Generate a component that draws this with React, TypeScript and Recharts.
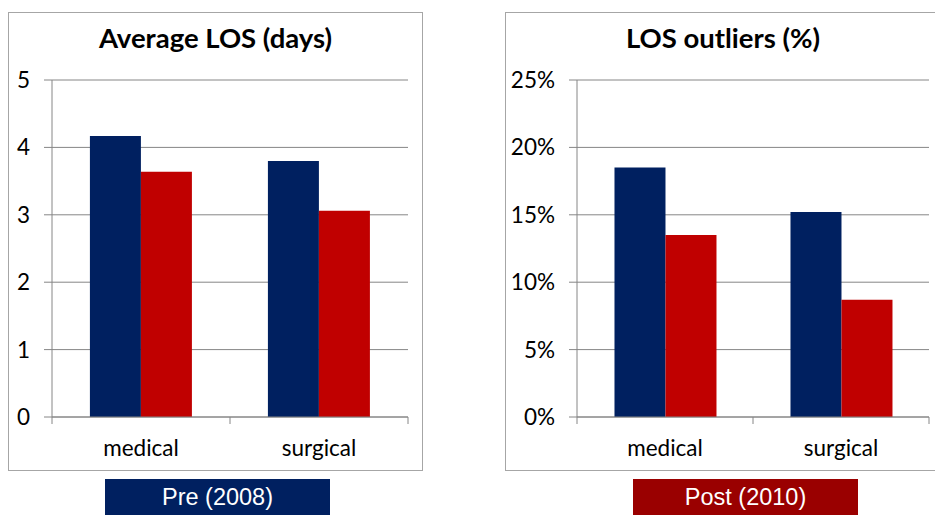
import React from "react";
import { BarChart, Bar, XAxis, YAxis, CartesianGrid } from "recharts";

const categories = ["medical", "surgical"];
const losPre = [4.17, 3.8];
const losPost = [3.64, 3.06];
const outPre = [0.185, 0.152];
const outPost = [0.135, 0.087];
const losTicks = [0, 1, 2, 3, 4, 5];
const outTicks = [0, 0.05, 0.1, 0.15, 0.2, 0.25];
const titles = ["Average LOS (days)", "LOS outliers (%)"];
const legendLabels = ["Pre (2008)", "Post (2010)"];

const NAVY = "#002060";
const RED = "#C00000";
const POSTBOX = "#9A0000";
const AXIS = "#868686";
const BORDER = "#A6A6A6";
const FONT = "Lato, 'Open Sans', sans-serif";
const TICK_FS = 22.5;

const losData = categories.map((c, i) => ({ cat: c, pre: losPre[i], post: losPost[i] }));
const outData = categories.map((c, i) => ({ cat: c, pre: outPre[i], post: outPost[i] }));

const CatTick = (props: any) => {
  const { x, y, payload, index, visibleTicksCount } = props;
  const off = payload && typeof payload.offset === "number" ? payload.offset : 0;
  return (
    <g>
      <line x1={x - off} x2={x - off} y1={y - 7} y2={y} stroke={AXIS} />
      {index === visibleTicksCount - 1 && (
        <line x1={x + off} x2={x + off} y1={y - 7} y2={y} stroke={AXIS} />
      )}
      <text x={x} y={y + 32} textAnchor="middle" fill="#000" fontFamily={FONT} fontSize={TICK_FS}>
        {payload.value}
      </text>
    </g>
  );
};

function Panel(props: {
  left: number;
  width: number;
  chartWidth: number;
  yWidth: number;
  rightMargin: number;
  title: string;
  titleX: number;
  data: any[];
  ticks: number[];
  domain: [number, number];
  fmt?: (v: number) => string;
  rightBorder: boolean;
}) {
  const { left, width, chartWidth, yWidth, rightMargin, title, titleX, data, ticks, domain, fmt, rightBorder } = props;
  return (
    <div
      style={{
        position: "absolute",
        left,
        top: 12,
        width,
        height: 459,
        boxSizing: "border-box",
        border: `1px solid ${BORDER}`,
        borderRight: rightBorder ? `1px solid ${BORDER}` : "none",
        background: "#fff",
      }}
    >
      <svg
        width={chartWidth}
        height={60}
        style={{ position: "absolute", left: 0, top: 0 }}
      >
        <text
          x={titleX}
          y={35}
          textAnchor="middle"
          fontFamily={FONT}
          fontWeight="bold"
          fontSize={27.5}
          fill="#000"
        >
          {title}
        </text>
      </svg>
      <div style={{ position: "absolute", left: 0, top: 0 }}>
        <BarChart
          width={chartWidth}
          height={457}
          data={data}
          margin={{ top: 67, right: rightMargin, bottom: 13, left: 0 }}
          barCategoryGap="21.3%"
          barGap={0}
        >
          <CartesianGrid vertical={false} stroke={AXIS} strokeDasharray="" />
          <XAxis
            dataKey="cat"
            height={40}
            tickLine={false}
            tickSize={7}
            tickMargin={0}
            axisLine={{ stroke: AXIS }}
            tick={<CatTick />}
            interval={0}
          />
          <YAxis
            width={yWidth}
            domain={domain}
            ticks={ticks}
            interval={0}
            tickSize={8}
            tickMargin={14}
            tickLine={{ stroke: AXIS }}
            axisLine={{ stroke: AXIS }}
            tickFormatter={fmt}
            tick={{ fill: "#000", fontFamily: FONT, fontSize: TICK_FS }}
          />
          <Bar dataKey="pre" fill={NAVY} isAnimationActive={false} />
          <Bar dataKey="post" fill={RED} isAnimationActive={false} />
        </BarChart>
      </div>
    </div>
  );
}

function LegendBox(props: { left: number; color: string; label: string }) {
  return (
    <div
      style={{
        position: "absolute",
        left: props.left,
        top: 479,
        width: 225,
        height: 40,
        background: props.color,
        color: "#fff",
        fontFamily: "'Liberation Sans', Arial, sans-serif",
        fontSize: 23.5,
        lineHeight: "36px",
        textAlign: "center",
      }}
    >
      {props.label}
    </div>
  );
}

export default function App() {
  return (
    <div
      style={{
        position: "absolute",
        left: 0,
        top: 0,
        width: 935,
        height: 515,
        overflow: "hidden",
        background: "#fff",
      }}
    >
      <Panel
        left={8}
        width={415}
        chartWidth={413}
        yWidth={43}
        rightMargin={14}
        title={titles[0]}
        titleX={206.5}
        data={losData}
        ticks={losTicks}
        domain={[0, 5]}
        rightBorder={true}
      />
      <Panel
        left={505}
        width={440}
        chartWidth={429}
        yWidth={71}
        rightMargin={6}
        title={titles[1]}
        titleX={217}
        data={outData}
        ticks={outTicks}
        domain={[0, 0.25]}
        fmt={(v: number) => `${Math.round(v * 100)}%`}
        rightBorder={false}
      />
      <LegendBox left={105} color={NAVY} label={legendLabels[0]} />
      <LegendBox left={633} color={POSTBOX} label={legendLabels[1]} />
    </div>
  );
}
